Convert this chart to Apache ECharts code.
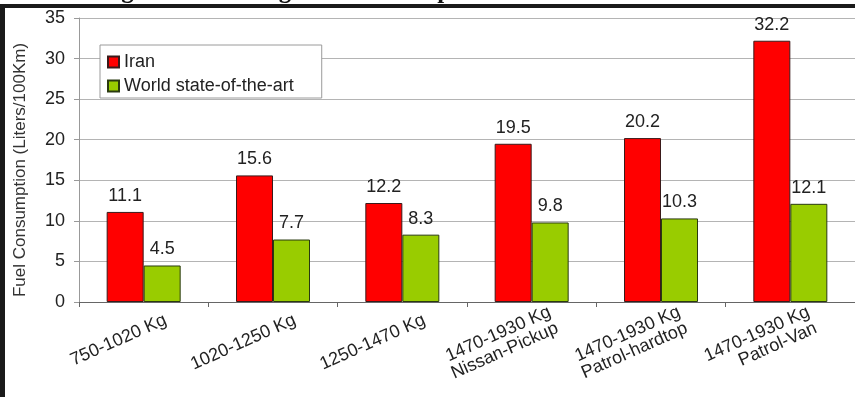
<!DOCTYPE html>
<html>
<head>
<meta charset="utf-8">
<script src="https://cdn.jsdelivr.net/npm/echarts@6/dist/echarts.min.js"></script>
<style>
  html, body { margin: 0; padding: 0; background: #ffffff; }
  #chart { width: 855px; height: 397px; }
</style>
</head>
<body>
<div id="chart"></div>
<script>
// Vehicle weight classes
const categories = [
  '750-1020 Kg',
  '1020-1250 Kg',
  '1250-1470 Kg',
  '1470-1930 Kg\nNissan-Pickup',
  '1470-1930 Kg\nPatrol-hardtop',
  '1470-1930 Kg\nPatrol-Van'
];
// Fuel consumption, liters per 100 km
const iranValues = [11.1, 15.6, 12.2, 19.5, 20.2, 32.2];
const worldValues = [4.5, 7.7, 8.3, 9.8, 10.3, 12.1];
const yTicks = { min: 0, max: 35, interval: 5 };

const FONT = 'Liberation Sans, Arial, sans-serif';
const chart = echarts.init(document.getElementById('chart'), null, { renderer: 'canvas' });

const labelStyle = {
  show: true,
  position: 'top',
  distance: 7,
  color: '#222',
  fontFamily: FONT,
  fontSize: 18
};

chart.setOption({
  backgroundColor: '#ffffff',
  animation: false,
  grid: { left: 79, right: -11, top: 18, bottom: 95, containLabel: false },
  legend: {
    left: 100,
    top: 45,
    orient: 'vertical',
    icon: 'rect',
    itemWidth: 11,
    itemHeight: 11,
    itemGap: 6,
    padding: [8, 28, 3, 7],
    backgroundColor: '#ffffff',
    borderColor: '#9a9a9a',
    borderWidth: 1,
    textStyle: { color: '#222', fontSize: 18, fontFamily: FONT },
    data: ['Iran', 'World state-of-the-art']
  },
  xAxis: {
    type: 'category',
    data: categories,
    axisLine: { lineStyle: { color: '#666', width: 1 } },
    axisTick: { show: true, alignWithLabel: false, length: 5, lineStyle: { color: '#666' } },
    axisLabel: {
      rotate: 24,
      interval: 0,
      margin: 27,
      color: '#222',
      fontSize: 18,
      lineHeight: 18,
      padding: [0, -24, 0, 0],
      fontFamily: FONT
    }
  },
  yAxis: {
    type: 'value',
    min: yTicks.min,
    max: yTicks.max,
    interval: yTicks.interval,
    name: 'Fuel Consumption (Liters/100Km)',
    nameLocation: 'middle',
    nameGap: 50,
    nameTextStyle: { color: '#333', fontSize: 17, fontFamily: FONT, padding: [0, 20, 0, 0] },
    axisLine: { show: true, lineStyle: { color: '#999', width: 1 } },
    axisTick: { show: true, length: 5, lineStyle: { color: '#999' } },
    axisLabel: {
      margin: 14,
      color: '#222',
      fontSize: 18,
      fontFamily: FONT
    },
    splitLine: { show: true, lineStyle: { color: '#b4b4b4', width: 1 } }
  },
  series: [
    {
      name: 'Iran',
      type: 'bar',
      data: iranValues,
      barWidth: 37,
      barGap: '0%',
      itemStyle: { color: '#ff0000', borderColor: '#3a1a1a', borderWidth: 1 },
      label: labelStyle
    },
    {
      name: 'World state-of-the-art',
      type: 'bar',
      data: worldValues,
      barWidth: 37,
      barGap: '0%',
      itemStyle: { color: '#99cc00', borderColor: '#2a3a10', borderWidth: 1 },
      label: labelStyle
    }
  ],
  graphic: [
    {
      // figure caption, running above the frame
      type: 'text',
      left: 99,
      top: -21,
      style: {
        text: 'Fig. 2. The average fuel consumption',
        font: 'bold 25px "Liberation Serif", "Times New Roman", serif',
        fill: '#111'
      },
      z: 10
    },
    {
      type: 'rect',
      shape: { x: 0, y: 4, width: 855, height: 4 },
      style: { fill: '#1a1a1a' },
      z: 11
    },
    {
      type: 'rect',
      shape: { x: 0, y: 4, width: 5, height: 393 },
      style: { fill: '#1a1a1a' },
      z: 11
    }
  ]
});
</script>
</body>
</html>
